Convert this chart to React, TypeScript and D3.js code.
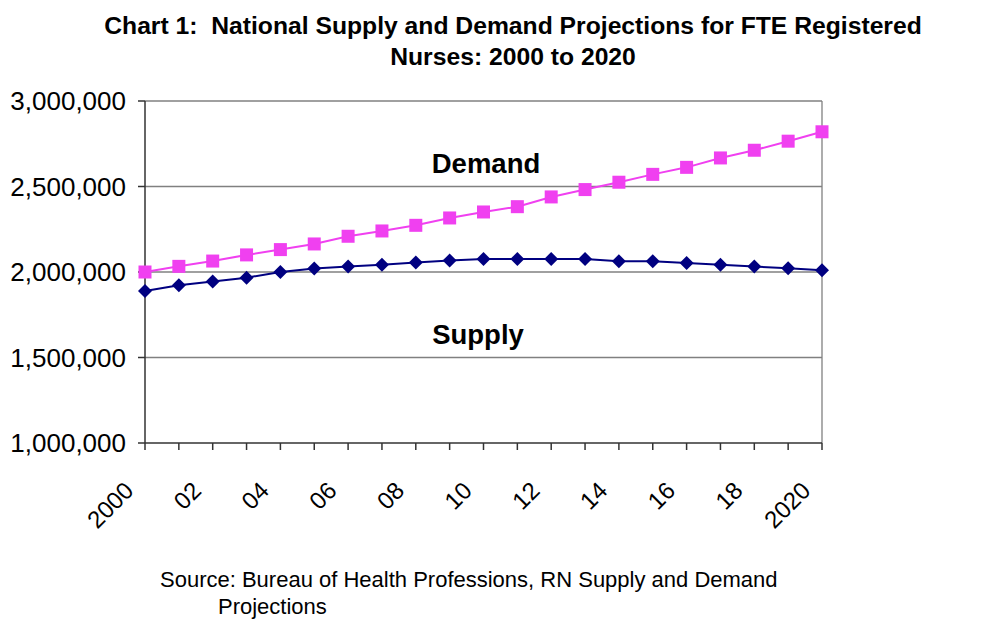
import { line, range, scaleLinear, format } from 'd3';

const years = range(2000, 2021);
const demand = [
  2000000, 2033000, 2064000, 2100000, 2131000, 2164000, 2209000, 2240000, 2273000, 2316000,
  2351000, 2382000, 2439000, 2482000, 2525000, 2571000, 2612000, 2667000, 2712000, 2765000, 2820000,
];
const supply = [
  1889000, 1922000, 1944000, 1967000, 2000000, 2020000, 2032000, 2043000, 2055000, 2067000,
  2076000, 2076000, 2076000, 2076000, 2063000, 2063000, 2053000, 2043000, 2032000, 2022000, 2010000,
];
const yTicks = [1000000, 1500000, 2000000, 2500000, 3000000];
const xLabelYears = [2000, 2002, 2004, 2006, 2008, 2010, 2012, 2014, 2016, 2018, 2020];
const titleLines = [
  'Chart 1:  National Supply and Demand Projections for FTE Registered',
  'Nurses: 2000 to 2020',
];
const sourceLines = ['Source: Bureau of Health Professions, RN Supply and Demand', 'Projections'];

export default function App() {
  const width = 1000;
  const height = 626;
  const margin = { top: 101, right: 178, bottom: 183, left: 145 };
  const font = 'Arial, "Liberation Sans", sans-serif';

  const x = scaleLinear()
    .domain([2000, 2020])
    .range([margin.left, width - margin.right]);
  const y = scaleLinear()
    .domain([1000000, 3000000])
    .range([height - margin.bottom, margin.top]);

  const mk = line<number>()
    .x((_, i) => x(years[i]))
    .y((d) => y(d));

  const fmt = format(',');
  const bottom = y(1000000);

  return (
    <svg
      width={width}
      height={height}
      style={{ position: 'absolute', left: 0, top: 0, background: '#fff' }}
      fontFamily={font}>
      {titleLines.map((t, i) => (
        <text
          key={t}
          x={513}
          y={34 + i * 31}
          textAnchor='middle'
          fontSize={24.7}
          fontWeight='bold'
          style={{ whiteSpace: 'pre' }}>
          {t}
        </text>
      ))}

      {/* grid + frame */}
      {yTicks.slice(1).map((v) => (
        <line
          key={v}
          x1={margin.left}
          x2={x(2020)}
          y1={y(v)}
          y2={y(v)}
          stroke='#808080'
          strokeWidth={1.3}
        />
      ))}
      <line x1={x(2020)} x2={x(2020)} y1={y(3000000)} y2={bottom} stroke='#808080' strokeWidth={1.3} />

      {/* y axis */}
      <line x1={margin.left} x2={margin.left} y1={y(3000000)} y2={bottom} stroke='#333' strokeWidth={1.5} />
      {yTicks.map((v) => (
        <g key={v}>
          <line x1={margin.left - 7} x2={margin.left} y1={y(v)} y2={y(v)} stroke='#333' strokeWidth={1.5} />
          <text x={126} y={y(v)} dy='0.36em' textAnchor='end' fontSize={26}>
            {fmt(v)}
          </text>
        </g>
      ))}

      {/* x axis */}
      <line x1={margin.left} x2={x(2020)} y1={bottom} y2={bottom} stroke='#333' strokeWidth={1.5} />
      {years.map((yr) => (
        <line key={yr} x1={x(yr)} x2={x(yr)} y1={bottom} y2={bottom + 7} stroke='#333' strokeWidth={1.5} />
      ))}
      {xLabelYears.map((yr) => {
        const lbl = yr === 2000 || yr === 2020 ? String(yr) : String(yr).slice(2);
        const tx = x(yr) - 10;
        const ty = bottom + 49;
        return (
          <text
            key={yr}
            x={tx}
            y={ty}
            textAnchor='end'
            fontSize={24}
            transform={`rotate(-45, ${tx}, ${ty})`}>
            {lbl}
          </text>
        );
      })}

      {/* series */}
      <path d={mk(demand) ?? ''} fill='none' stroke='#f040f0' strokeWidth={2} />
      {demand.map((d, i) => (
        <rect key={i} x={x(years[i]) - 6.5} y={y(d) - 6.5} width={13} height={13} fill='#f040f0' />
      ))}
      <path d={mk(supply) ?? ''} fill='none' stroke='#000080' strokeWidth={2} />
      {supply.map((d, i) => {
        const cx = x(years[i]);
        const cy = y(d);
        return (
          <path
            key={i}
            d={`M${cx},${cy - 7}L${cx + 7},${cy}L${cx},${cy + 7}L${cx - 7},${cy}Z`}
            fill='#000080'
          />
        );
      })}

      <text x={486} y={173} textAnchor='middle' fontSize={27.5} fontWeight='bold'>
        Demand
      </text>
      <text x={478} y={344} textAnchor='middle' fontSize={27.5} fontWeight='bold'>
        Supply
      </text>

      {sourceLines.map((t, i) => (
        <text key={t} x={i === 0 ? 160 : 218} y={587 + i * 27} fontSize={22}>
          {t}
        </text>
      ))}
    </svg>
  );
}
